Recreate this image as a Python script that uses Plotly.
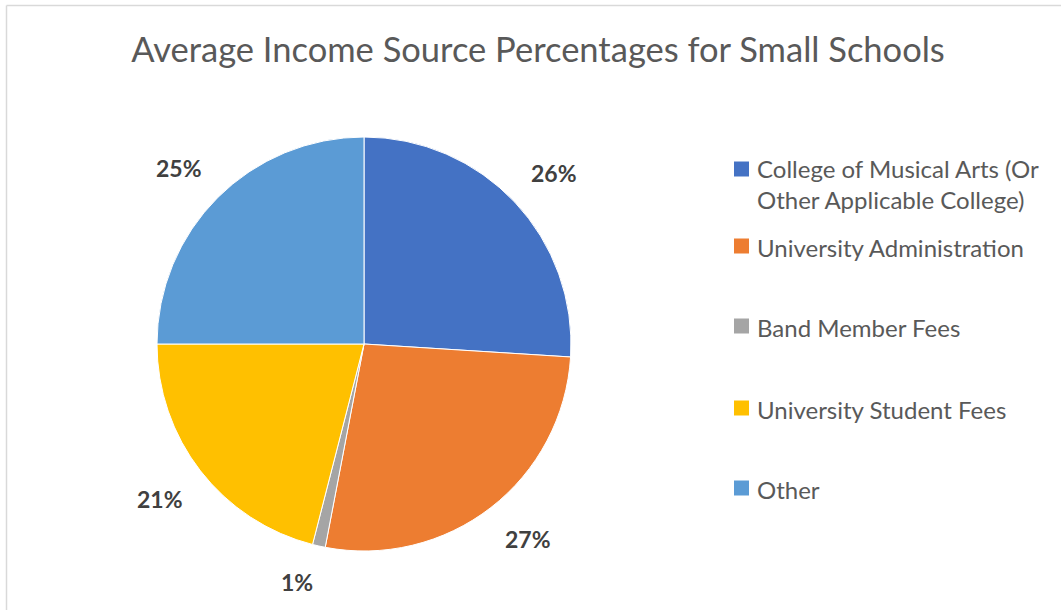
import math
import plotly.graph_objects as go

# Income sources and their average share (%) for small schools
categories = [
    "College of Musical Arts (Or<br>Other Applicable College)",
    "University Administration",
    "Band Member Fees",
    "University Student Fees",
    "Other",
]
shares = [26, 27, 1, 21, 25]
colors = ["#4472C4", "#ED7D31", "#A5A5A5", "#FFC000", "#5B9BD5"]

W, H = 1061, 610
cx, cy, r = 364, 344, 207  # pie centre / radius in pixels
label_gap = 21             # distance of value labels from the rim


def px(x):
    return x / W


def py(y):
    return 1 - y / H


fig = go.Figure()
fig.add_trace(go.Pie(
    labels=categories,
    values=shares,
    marker=dict(colors=colors, line=dict(color="white", width=1)),
    sort=False,
    direction="clockwise",
    rotation=0,
    textinfo="none",
    showlegend=False,
    hoverinfo="label+percent",
    domain=dict(x=[px(cx - r), px(cx + r)], y=[py(cy + r), py(cy - r)]),
))

annotations = []

# Value labels placed just outside each slice along its mid-angle
total = sum(shares)
cum = 0
for v in shares:
    theta = 2 * math.pi * (cum + v / 2) / total
    cum += v
    dx, dy = math.sin(theta), -math.cos(theta)
    annotations.append(dict(
        xref="paper", yref="paper",
        x=px(cx + (r + label_gap) * dx), y=py(cy + (r + label_gap) * dy),
        xanchor="left" if dx >= 0 else "right",
        yanchor="top" if dy >= 0 else "bottom",
        showarrow=False, text=f"{v}%", borderpad=0,
        font=dict(family="Lato", size=23, color="#404040", weight="bold"),
    ))

# Chart frame (left and top edges) and a swatch legend
shapes = [
    dict(type="line", xref="paper", yref="paper",
         x0=px(6.5), x1=px(6.5), y0=0, y1=py(5.5),
         line=dict(color="#D9D9D9", width=1.5)),
    dict(type="line", xref="paper", yref="paper",
         x0=px(6.5), x1=1, y0=py(5.5), y1=py(5.5),
         line=dict(color="#D9D9D9", width=1.5)),
]
legend_y = [169, 246, 326, 408, 488]
for name, col, y in zip(categories, colors, legend_y):
    shapes.append(dict(type="rect", xref="paper", yref="paper",
                       x0=px(734), x1=px(749),
                       y0=py(y + 7.5), y1=py(y - 7.5),
                       fillcolor=col, line=dict(width=0)))
    two_line = "<br>" in name
    annotations.append(dict(
        xref="paper", yref="paper", x=px(755),
        y=py(y + 15 if two_line else y + 1),
        xanchor="left", yanchor="middle", align="left", showarrow=False,
        text=name, font=dict(family="Lato", size=24, color="#595959"),
    ))

fig.update_layout(
    width=W, height=H,
    margin=dict(l=0, r=0, t=0, b=0),
    paper_bgcolor="white", plot_bgcolor="white",
    title=dict(text="Average Income Source Percentages for Small Schools",
               x=px(538), xanchor="center", y=py(50), yanchor="middle",
               font=dict(family="Lato", size=34.5, color="#595959")),
    shapes=shapes,
    annotations=annotations,
)

fig.write_html("out.html")
